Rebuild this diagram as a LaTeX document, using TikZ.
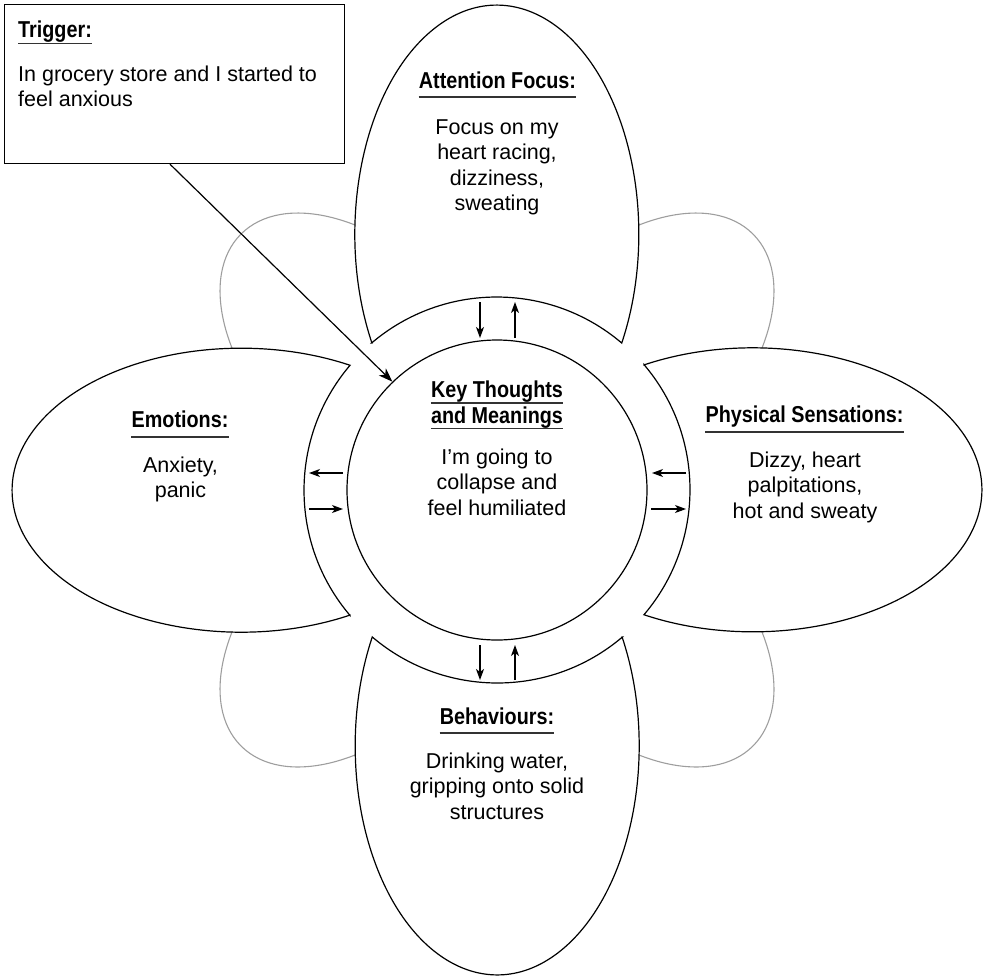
\documentclass[tikz,border=0pt]{standalone}
\usepackage{fontspec}
\setmainfont{Liberation Sans}
\newfontfamily\headfont[FakeStretch=0.86]{Liberation Sans}
\usetikzlibrary{arrows.meta}
\begin{document}
\begin{tikzpicture}[x=1pt,y=1pt,
  petal/.style={draw=black, fill=white, line width=1.2pt},
  graypetal/.style={draw=black!38, line width=1.1pt},
  body/.style={font=\fontsize{21.5}{25.5}\selectfont, align=center, inner sep=0pt, anchor=north},
  head/.style={font=\headfont\bfseries\fontsize{23}{25.5}\selectfont, inner sep=0pt, anchor=base},
  uline/.style={line width=1.2pt, black!80},
  ringarrow/.style={line width=1.1pt, -{Stealth[length=11pt,width=8pt,inset=3pt]}},
  bigarrow/.style={line width=1.2pt, -{Stealth[length=14pt,width=10pt,inset=4pt]}}]
\useasboundingbox (0,0) rectangle (985,-978);
\coordinate (C) at (497,-490);
% grey background petals
\foreach \a in {45,135,225,315}{
  \begin{scope}[shift={(497,-490)}, rotate=\a]
    \draw[graypetal] (182,0) ellipse [x radius=180, y radius=107.5];
  \end{scope}}
\fill[white] (C) circle (193);
% main petals
\foreach \a in {0,90,180,270}{
  \begin{scope}[shift={(497,-490)}, rotate=\a]
    \draw[petal] (40.4:193) arc[start angle=118.4, end angle=-118.4, x radius=229, y radius=142]
      arc[start angle=-40.4, end angle=40.4, radius=193] -- cycle;
  \end{scope}}
% centre circle
\node[circle, draw, line width=1.2pt, minimum size=300pt, inner sep=0pt] (kc) at (C) {};
% trigger box
\node[draw, line width=1.2pt, fill=white, minimum width=340pt, minimum height=159pt, inner sep=0pt, anchor=north west] (trig) at (4,-4) {};
\coordinate (tstart) at ([xshift=166pt]trig.south west);
\draw[bigarrow] (tstart) -- (kc.134.2);
% ring arrows
\coordinate (ta1) at (480,-302); \coordinate (ta2) at (480,-338);
\coordinate (tb1) at (515,-338); \coordinate (tb2) at (515,-302);
\coordinate (ba1) at (480,-645); \coordinate (ba2) at (480,-680);
\coordinate (bb1) at (515,-680); \coordinate (bb2) at (515,-645);
\coordinate (la1) at (343,-473); \coordinate (la2) at (309,-473);
\coordinate (lb1) at (309,-509); \coordinate (lb2) at (343,-509);
\coordinate (ra1) at (686,-473); \coordinate (ra2) at (652,-473);
\coordinate (rb1) at (651,-509); \coordinate (rb2) at (686,-509);
\draw[ringarrow] (ta1) -- (ta2);
\draw[ringarrow] (tb1) -- (tb2);
\draw[ringarrow] (ba1) -- (ba2);
\draw[ringarrow] (bb1) -- (bb2);
\draw[ringarrow] (la1) -- (la2);
\draw[ringarrow] (lb1) -- (lb2);
\draw[ringarrow] (ra1) -- (ra2);
\draw[ringarrow] (rb1) -- (rb2);
% texts
\node[head, anchor=base west] (trigh) at (18,-37) {Trigger:};
\node[body, anchor=north west, align=left] (trigb) at (18,-63.15) {\strut In grocery store and I started to\\feel anxious};
\node[head] (atth) at (497.5,-88) {Attention Focus:};
\node[body] (attb) at (497,-116.15) {\strut Focus on my\\heart racing,\\dizziness,\\sweating};
\node[head] (emoh) at (180,-427) {Emotions:};
\node[body] (emob) at (180.5,-454.15) {\strut Anxiety,\\panic};
\node[head] (physh) at (804.5,-422) {Physical Sensations:};
\node[body] (physb) at (805,-449.15) {\strut Dizzy, heart\\palpitations,\\hot and sweaty};
\node[head] (behh) at (497,-724) {Behaviours:};
\node[body] (behb) at (497,-750.15) {\strut Drinking water,\\gripping onto solid\\structures};
\node[head] (key1) at (497,-397) {Key Thoughts};
\node[head] (key2) at (497,-423) {and Meanings};
\node[body] (keyb) at (497,-446.15) {\strut I’m going to\\collapse and\\feel humiliated};
% underlines
\draw[uline] ([yshift=-6.5pt]trigh.base west) -- ([yshift=-6.5pt]trigh.base east);
\draw[uline] ([yshift=-9pt]atth.base west) -- ([yshift=-9pt]atth.base east);
\draw[uline] ([yshift=-10pt]emoh.base west) -- ([yshift=-10pt]emoh.base east);
\draw[uline] ([yshift=-10pt]physh.base west) -- ([yshift=-10pt]physh.base east);
\draw[uline] ([yshift=-9pt]behh.base west) -- ([yshift=-9pt]behh.base east);
\draw[uline] ([yshift=-6pt]key1.base west) -- ([yshift=-6pt]key1.base east);
\draw[uline] ([yshift=-5.5pt]key2.base west) -- ([yshift=-5.5pt]key2.base east);
\end{tikzpicture}
\end{document}
